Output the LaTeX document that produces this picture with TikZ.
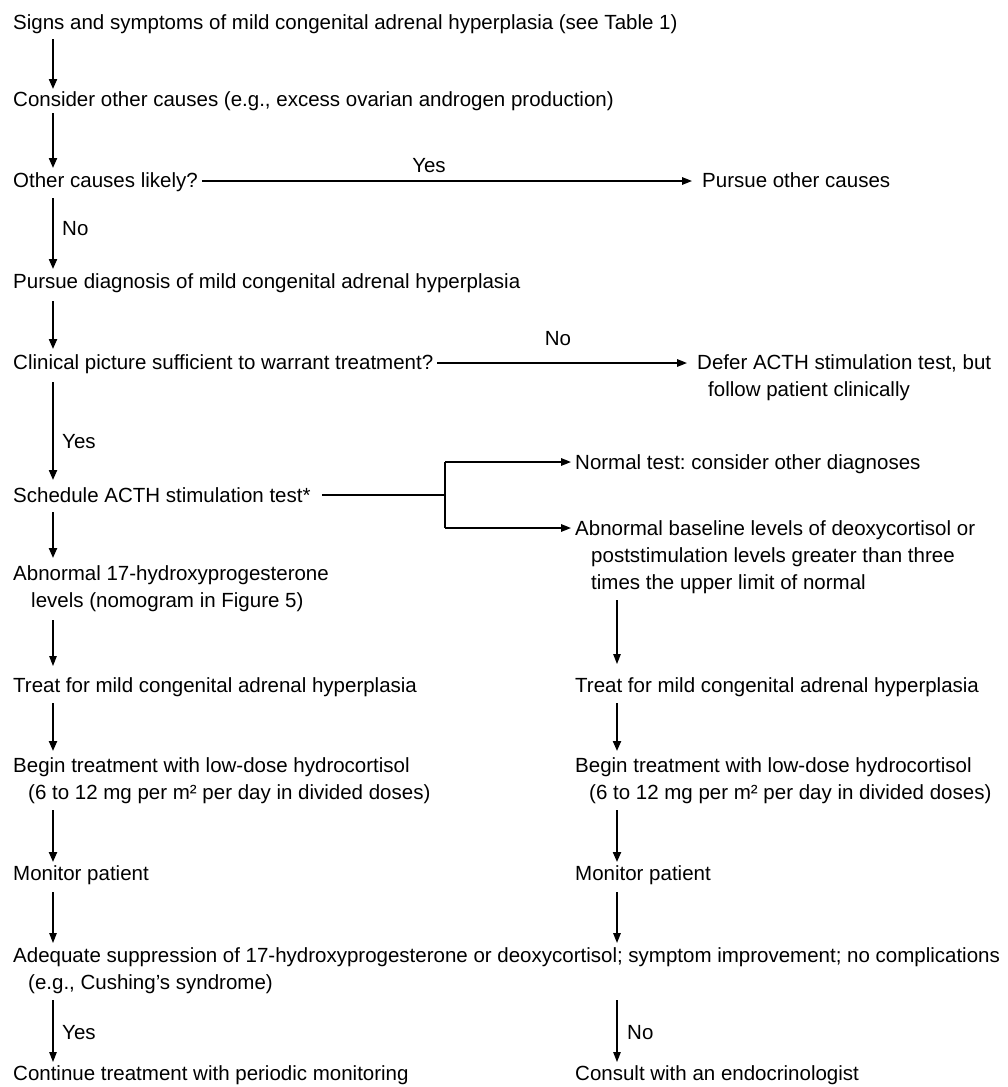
\documentclass[tikz,border=0pt]{standalone}
\usepackage{fontspec}
\setmainfont{Liberation Sans}
\usetikzlibrary{arrows.meta}
\frenchspacing
\begin{document}
\begin{tikzpicture}[x=1pt,y=-1pt,
  txt/.style={anchor=base west,inner sep=0pt,font=\fontsize{20.5}{27}\selectfont\frenchspacing},
  lbl/.style={anchor=base,inner sep=0pt,font=\fontsize{20.5}{27}\selectfont},
  arrthin/.style={-{Triangle[length=10pt,width=7.5pt]},line width=1.2pt},
  arrmed/.style={-{Triangle[length=10pt,width=7.5pt]},line width=1.6pt},
  arrthick/.style={-{Triangle[length=10pt,width=8pt]},line width=2.1pt},
  plain/.style={line width=1.6pt}
]
\useasboundingbox (0,0) rectangle (1007,1087);
\coordinate (cl) at (53,0);
\coordinate (cr) at (617,0);
\coordinate (bt) at (445,462);
\coordinate (bb) at (445,528);

% left column
\node[txt] (s1)  at (13,29)  {Signs and symptoms of mild congenital adrenal hyperplasia (see Table 1)};
\node[txt] (s2)  at (13,106) {Consider other causes (e.g., excess ovarian androgen production)};
\node[txt] (oth) at (13,187) {Other causes likely?};
\node[txt] (poc) at (702,187) {Pursue other causes};
\node[txt] (pdx) at (13,288) {Pursue diagnosis of mild congenital adrenal hyperplasia};
\node[txt] (cln) at (13,369) {Clinical picture sufficient to warrant treatment?};
\node[txt] (dfr) at (697,369) {Defer ACTH stimulation test, but};
\node[txt] (dfr2) at (708,396) {follow patient clinically};
\node[txt] (sch) at (13,502) {Schedule ACTH stimulation test*};
\node[txt] (nrm) at (575,469) {Normal test: consider other diagnoses};
\node[txt] (abn) at (575,535) {Abnormal baseline levels of deoxycortisol or};
\node[txt] (abn2) at (591,562) {poststimulation levels greater than three};
\node[txt] (abn3) at (591,589) {times the upper limit of normal};
\node[txt] (ab1) at (13,580) {Abnormal 17-hydroxyprogesterone};
\node[txt] (ab2) at (31,607) {levels (nomogram in Figure 5)};
\node[txt] (trL) at (13,692) {Treat for mild congenital adrenal hyperplasia};
\node[txt] (trR) at (575,692) {Treat for mild congenital adrenal hyperplasia};
\node[txt] (bgL) at (13,772) {Begin treatment with low-dose hydrocortisol};
\node[txt] (bg2L) at (28,799) {(6 to 12 mg per m² per day in divided doses)};
\node[txt] (bgR) at (575,772) {Begin treatment with low-dose hydrocortisol};
\node[txt] (bg2R) at (589,799) {(6 to 12 mg per m² per day in divided doses)};
\node[txt] (monL) at (13,880) {Monitor patient};
\node[txt] (monR) at (575,880) {Monitor patient};
\node[txt] (adq) at (13,962) {Adequate suppression of 17-hydroxyprogesterone or deoxycortisol; symptom improvement; no complications};
\node[txt] (eg) at (28,989) {(e.g., Cushing’s syndrome)};
\node[txt] (cnt) at (13,1080) {Continue treatment with periodic monitoring};
\node[txt] (cns) at (575,1080) {Consult with an endocrinologist};

% labels
\node[lbl] (yes1) at (429,172) {Yes};
\node[lbl] (no1) at (558,345) {No};
\node[txt] (no2) at (62,235) {No};
\node[txt] (yes2) at (62,448) {Yes};
\node[txt] (yes3) at (62,1039) {Yes};
\node[txt] (no3) at (627,1039) {No};

% vertical arrows, left
\draw[arrthick] ([yshift=-10pt]s1.base -| cl) -- ([yshift=17pt]s2.base -| cl);
\draw[arrthick] ([yshift=-7pt]s2.base -| cl) -- ([yshift=19pt]oth.base -| cl);
\draw[arrthick] ([yshift=-11pt]oth.base -| cl) -- ([yshift=19pt]pdx.base -| cl);
\draw[arrthick] ([yshift=-13pt]pdx.base -| cl) -- ([yshift=20pt]cln.base -| cl);
\draw[arrthick] ([yshift=-13pt]cln.base -| cl) -- ([yshift=22pt]sch.base -| cl);
\draw[arrthick] ([yshift=-10pt]sch.base -| cl) -- ([yshift=22pt]ab1.base -| cl);
\draw[arrthin] ([yshift=-13pt]ab2.base -| cl) -- ([yshift=26pt]trL.base -| cl);
\draw[arrthick] ([yshift=-11pt]trL.base -| cl) -- ([yshift=21pt]bgL.base -| cl);
\draw[arrthick] ([yshift=-11pt]bg2L.base -| cl) -- ([yshift=18pt]monL.base -| cl);
\draw[arrthin] ([yshift=-12pt]monL.base -| cl) -- ([yshift=19pt]adq.base -| cl);
\draw[arrthin] ([yshift=-11pt]eg.base -| cl) -- ([yshift=18pt]cnt.base -| cl);

% vertical arrows, right
\draw[arrthin] ([yshift=-11pt]abn3.base -| cr) -- ([yshift=28pt]trR.base -| cr);
\draw[arrthick] ([yshift=-11pt]trR.base -| cr) -- ([yshift=21pt]bgR.base -| cr);
\draw[arrthick] ([yshift=-11pt]bg2R.base -| cr) -- ([yshift=18pt]monR.base -| cr);
\draw[arrmed] ([yshift=-12pt]monR.base -| cr) -- ([yshift=19pt]adq.base -| cr);
\draw[arrthin] ([yshift=-11pt]eg.base -| cr) -- ([yshift=18pt]cns.base -| cr);

% horizontal arrows
\draw[arrmed] ([xshift=4pt,yshift=6pt]oth.base east) -- ([xshift=-10pt,yshift=6pt]poc.base west);
\draw[arrmed] ([xshift=4pt,yshift=6pt]cln.base east) -- ([xshift=-10pt,yshift=6pt]dfr.base west);

% bracket
\draw[plain] ([xshift=11pt,yshift=7pt]sch.base east) -- ([yshift=7pt]sch.base -| bt);
\draw[plain] (bt) -- (bb);
\draw[arrmed] (bt) -- ([xshift=-4pt,yshift=7pt]nrm.base west);
\draw[arrmed] (bb) -- ([xshift=-4pt,yshift=7pt]abn.base west);
\end{tikzpicture}
\end{document}
